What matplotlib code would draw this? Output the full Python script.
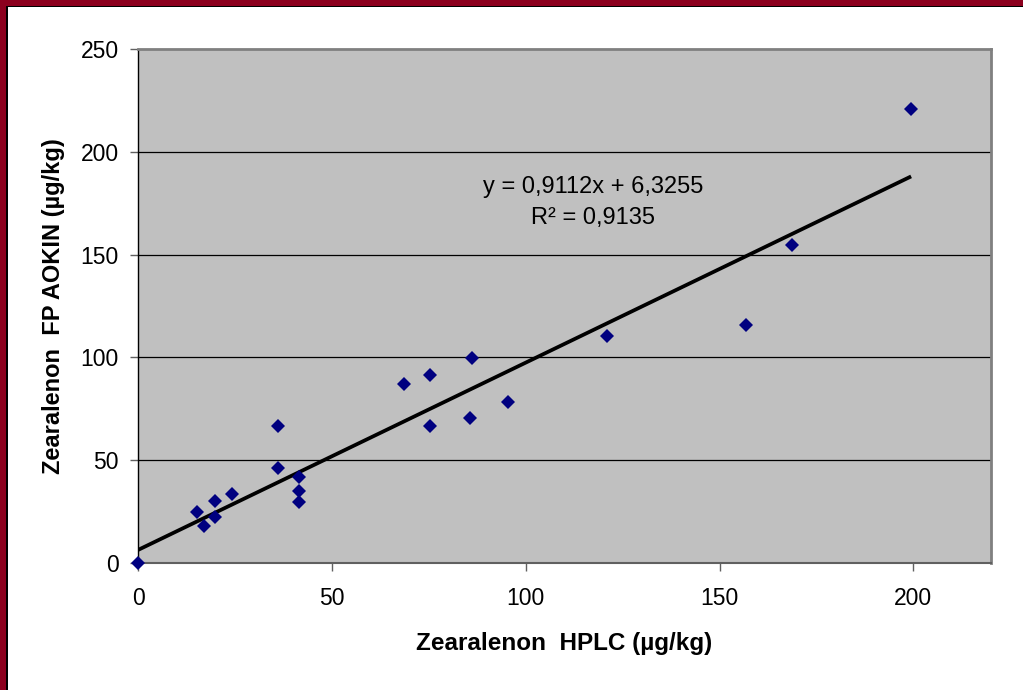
import matplotlib.pyplot as plt
import numpy as np
from matplotlib.patches import Rectangle

plt.rcParams['font.family'] = ['Liberation Sans', 'DejaVu Sans']

# Zearalenon: HPLC reference vs. FP AOKIN (µg/kg)
hplc = [0, 15.3, 17.0, 19.8, 19.8, 24.3, 36.2, 36.2, 41.4, 41.4, 41.4,
        68.6, 75.4, 75.4, 85.6, 86.2, 95.4, 120.9, 156.7, 168.7, 199.4]
fp_aokin = [0, 24.8, 18.1, 30.3, 22.5, 33.4, 66.6, 46.4, 41.7, 35.2, 29.8,
            86.9, 91.3, 66.5, 70.7, 99.7, 78.3, 110.6, 115.8, 154.5, 220.7]

slope, intercept, r2 = 0.9112, 6.3255, 0.9135

fig = plt.figure(figsize=(10.23, 6.9), dpi=100)
ax = fig.add_axes([0.1349, 0.1841, 0.8338, 0.7449])
ax.set_facecolor('#c0c0c0')

ax.plot(hplc, fp_aokin, linestyle='none', marker='D', markersize=7.6,
        color='#000080', markeredgewidth=0, zorder=5, clip_on=False)

xs = np.array([0, max(hplc)])
ax.plot(xs, slope * xs + intercept, color='black', lw=2.7, zorder=4,
        solid_capstyle='butt')

ax.text(0.5335, 0.7315, 'y = 0,9112x + 6,3255', transform=ax.transAxes,
        fontsize=17, ha='center', va='center')
ax.text(0.5335, 0.671, 'R² = 0,9135', transform=ax.transAxes,
        fontsize=17, ha='center', va='center')

ax.set_xlim(0, 220)
ax.set_ylim(0, 250)
ax.set_xticks(range(0, 201, 50))
ax.set_yticks(range(0, 251, 50))
for y in [50, 100, 150, 200]:
    ax.axhline(y, color='black', lw=0.9, zorder=1)

ax.tick_params(axis='both', labelsize=16.5, direction='out', length=6,
               width=1, color='#606060')
ax.tick_params(axis='x', pad=11)
ax.tick_params(axis='y', pad=8)

ax.spines['left'].set_color('black')
ax.spines['left'].set_linewidth(1)
ax.spines['bottom'].set_color('#606060')
ax.spines['bottom'].set_linewidth(1.5)
for s in ['top', 'right']:
    ax.spines[s].set_color('#808080')
    ax.spines[s].set_linewidth(2)

ax.set_xlabel('Zearalenon  HPLC (µg/kg)', fontsize=17.5, fontweight='bold',
              labelpad=16)
ax.set_ylabel('Zearalenon  FP AOKIN (µg/kg)', fontsize=17, fontweight='bold',
              labelpad=11)

# dark red frame along top and left edges
fig.patches.append(Rectangle((0, 1 - 6 / 690), 1, 6 / 690, transform=fig.transFigure,
                             facecolor='#8c001e', edgecolor='none'))
fig.patches.append(Rectangle((0, 1 - 7 / 690), 1, 1.5 / 690, transform=fig.transFigure,
                             facecolor='black', edgecolor='none'))
fig.patches.append(Rectangle((0, 0), 6 / 1023, 1, transform=fig.transFigure,
                             facecolor='#8c001e', edgecolor='none'))
fig.patches.append(Rectangle((6 / 1023, 0), 1.5 / 1023, 1 - 6 / 690, transform=fig.transFigure,
                             facecolor='black', edgecolor='none'))

fig.savefig('out.png', dpi=100)
